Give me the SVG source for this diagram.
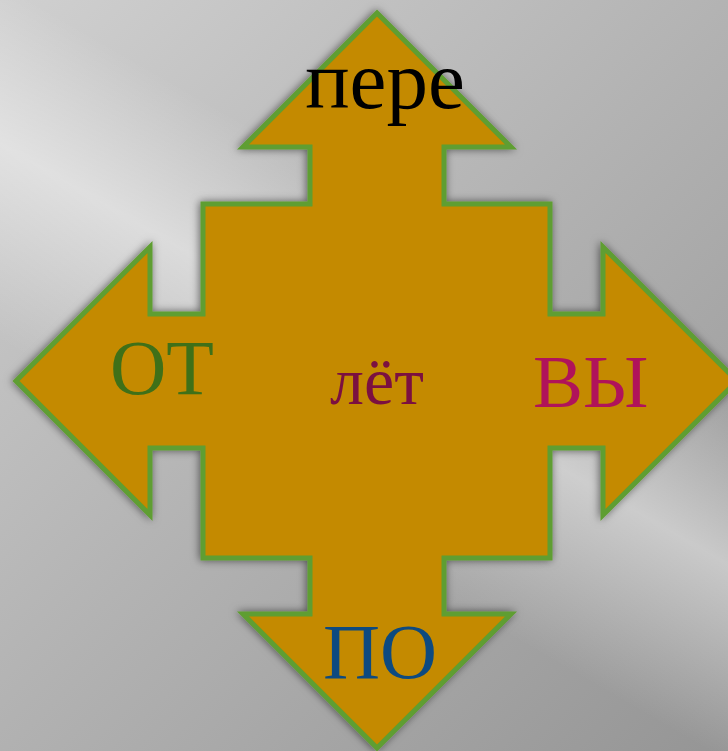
<svg xmlns="http://www.w3.org/2000/svg" width="728" height="751" viewBox="0 0 728 751">
<defs>
<linearGradient id="bg" gradientUnits="userSpaceOnUse" x1="0" y1="0" x2="728" y2="751">
<stop offset="0" stop-color="#d0d0d0"/>
<stop offset="0.5" stop-color="#b2b2b2"/>
<stop offset="1" stop-color="#959595"/>
</linearGradient>
<linearGradient id="band" gradientUnits="userSpaceOnUse" x1="378" y1="200" x2="222" y2="470">
<stop offset="0" stop-color="#ffffff" stop-opacity="0"/>
<stop offset="0.45" stop-color="#ffffff" stop-opacity="0.45"/>
<stop offset="1" stop-color="#ffffff" stop-opacity="0"/>
</linearGradient>
<filter id="shadow" x="-10%" y="-10%" width="120%" height="120%">
<feDropShadow dx="-1" dy="0" stdDeviation="4" flood-color="#000" flood-opacity="0.55"/>
</filter>
<style>
.shape{fill:#c48a00;stroke:#5f9e30;stroke-width:5;stroke-linejoin:miter}
.t{font-family:"Liberation Serif","DejaVu Serif",serif}
</style>
</defs>
<rect width="728" height="751" fill="url(#bg)"/>
<rect width="728" height="751" fill="url(#band)"/>
<g id="arrow">
<path class="shape" filter="url(#shadow)" d="M377,13 L511,147 L444,147 L444,204 L550,204 L550,314 L603,314 L603,247 L737,381 L603,515 L603,448 L550,448 L550,558 L444,558 L444,614 L511,614 L377,748 L243,614 L310,614 L310,558 L203,558 L203,448 L150,448 L150,515 L16,381 L150,247 L150,314 L203,314 L203,204 L310,204 L310,147 L243,147 Z"/>
</g>
<g id="labels" class="t">
<text id="pere" x="385" y="108" font-size="83" text-anchor="middle" fill="#000000">пере</text>
<text id="ot" x="110" y="394" font-size="78" fill="#3f7018">ОТ</text>
<text id="vy" x="533" y="407" font-size="75" fill="#b0135a">ВЫ</text>
<text id="po" x="380" y="678" font-size="79" text-anchor="middle" fill="#0d4a80">ПО</text>
<text id="let" x="377" y="404" font-size="68" text-anchor="middle" fill="#7b1040">лёт</text>
</g>
</svg>
